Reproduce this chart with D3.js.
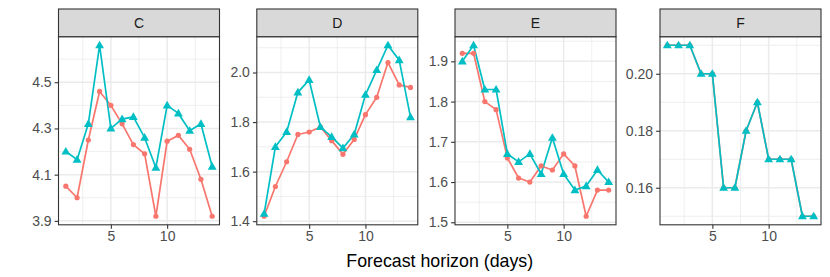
<!DOCTYPE html>
<html><head><meta charset="utf-8">
<script src="https://cdn.jsdelivr.net/npm/d3@7"></script>
<style>body{margin:0;background:#fff}svg{display:block}</style>
</head><body>
<svg id="chart" width="830" height="277"></svg>
<script>
const horizons = [1,2,3,4,5,6,7,8,9,10,11,12,13,14];
const panels = ["C","D","E","F"];
const xTicks = [5,10];
const yTicksC = [3.9,4.1,4.3,4.5];
const yTicksD = [1.4,1.6,1.8,2.0];
const yTicksE = [1.5,1.6,1.7,1.8,1.9];
const yTicksF = [0.16,0.18,0.20];
const redC  = [4.05,4.00,4.25,4.46,4.40,4.32,4.23,4.19,3.92,4.245,4.27,4.21,4.08,3.92];
const tealC = [4.20,4.165,4.32,4.66,4.30,4.34,4.35,4.26,4.13,4.40,4.365,4.29,4.32,4.135];
const redD  = [1.42,1.54,1.64,1.75,1.76,1.78,1.725,1.67,1.73,1.83,1.90,2.04,1.95,1.94];
const tealD = [1.43,1.70,1.76,1.92,1.97,1.78,1.74,1.695,1.75,1.91,2.01,2.11,2.05,1.82];
const redE  = [1.92,1.92,1.80,1.78,1.66,1.61,1.60,1.64,1.63,1.67,1.64,1.515,1.58,1.58];
const tealE = [1.90,1.94,1.83,1.83,1.67,1.65,1.67,1.62,1.71,1.62,1.58,1.59,1.63,1.60];
const redF  = [0.21,0.21,0.21,0.20,0.20,0.16,0.16,0.18,0.19,0.17,0.17,0.17,0.15,0.15];
const tealF = [0.21,0.21,0.21,0.20,0.20,0.16,0.16,0.18,0.19,0.17,0.17,0.17,0.15,0.15];
const xTitle = "Forecast horizon (days)";

const series = {
  C:{red:redC,teal:tealC,ticks:yTicksC,fmt:d3.format(".1f")},
  D:{red:redD,teal:tealD,ticks:yTicksD,fmt:d3.format(".1f")},
  E:{red:redE,teal:tealE,ticks:yTicksE,fmt:d3.format(".1f")},
  F:{red:redF,teal:tealF,ticks:yTicksF,fmt:d3.format(".2f")}
};
const colors = {red:"#F8766D", teal:"#00BFC4"};

const svg = d3.select("#chart");
const font = "'Liberation Sans', Arial, Helvetica, sans-serif";
const lefts = [58.5, 256.8, 455, 660];
const pw = 161;
const stripTop = 9, stripH = 27.7;
const pTop = stripTop + stripH, pBot = 224.8;

panels.forEach((p, i) => {
  const s = series[p];
  const x0 = lefts[i];
  const x = d3.scaleLinear().domain([1 - 0.65, 14 + 0.65]).range([x0, x0 + pw]);
  const all = s.red.concat(s.teal);
  const mn = d3.min(all), mx = d3.max(all), r = mx - mn;
  const y = d3.scaleLinear().domain([mn - 0.05 * r, mx + 0.05 * r]).range([pBot, pTop]);
  const g = svg.append("g");
  g.append("rect").attr("x", x0).attr("y", pTop).attr("width", pw).attr("height", pBot - pTop).attr("fill", "#fff");
  const yt = s.ticks;
  const step = yt[1] - yt[0];
  const yMinor = [];
  for (let k = -1; k < yt.length; k++) {
    const v = yt[0] + step * (k + 0.5);
    if (v >= y.domain()[0] && v <= y.domain()[1]) yMinor.push(v);
  }
  const xMinor = [2.5, 7.5, 12.5];
  g.selectAll(".ymn").data(yMinor).enter().append("line")
    .attr("x1", x0).attr("x2", x0 + pw).attr("y1", d => y(d)).attr("y2", d => y(d))
    .attr("stroke", "#EBEBEB").attr("stroke-width", 0.8);
  g.selectAll(".xmn").data(xMinor).enter().append("line")
    .attr("y1", pTop).attr("y2", pBot).attr("x1", d => x(d)).attr("x2", d => x(d))
    .attr("stroke", "#EBEBEB").attr("stroke-width", 0.8);
  g.selectAll(".ymj").data(yt).enter().append("line")
    .attr("x1", x0).attr("x2", x0 + pw).attr("y1", d => y(d)).attr("y2", d => y(d))
    .attr("stroke", "#EBEBEB").attr("stroke-width", 1.5);
  g.selectAll(".xmj").data(xTicks).enter().append("line")
    .attr("y1", pTop).attr("y2", pBot).attr("x1", d => x(d)).attr("x2", d => x(d))
    .attr("stroke", "#EBEBEB").attr("stroke-width", 1.5);

  const line = d3.line().x((d, j) => x(horizons[j])).y(d => y(d));
  ["red", "teal"].forEach(k => {
    g.append("path").datum(s[k]).attr("d", line).attr("fill", "none")
      .attr("stroke", colors[k]).attr("stroke-width", 1.7).attr("stroke-linejoin", "round");
  });
  g.selectAll(".pr").data(s.red).enter().append("circle")
    .attr("cx", (d, j) => x(horizons[j])).attr("cy", d => y(d)).attr("r", 2.6).attr("fill", colors.red);
  const tri = d3.symbol().type(d3.symbolTriangle).size(34);
  g.selectAll(".pt").data(s.teal).enter().append("path")
    .attr("d", tri).attr("transform", (d, j) => `translate(${x(horizons[j])},${y(d) + 0.5})`)
    .attr("fill", colors.teal);

  g.append("rect").attr("x", x0).attr("y", pTop).attr("width", pw).attr("height", pBot - pTop)
    .attr("fill", "none").attr("stroke", "#333333").attr("stroke-width", 1.1);
  g.append("rect").attr("x", x0).attr("y", stripTop).attr("width", pw).attr("height", stripH)
    .attr("fill", "#D9D9D9").attr("stroke", "#333333").attr("stroke-width", 1.1);
  g.append("text").attr("x", x0 + pw / 2).attr("y", stripTop + stripH / 2 + 5)
    .attr("text-anchor", "middle").attr("font-family", font).attr("font-size", 14)
    .attr("fill", "#1A1A1A").text(p);

  const yAxis = d3.axisLeft(y).tickValues(yt).tickFormat(s.fmt).tickSize(3.9).tickPadding(3);
  const ya = g.append("g").attr("transform", `translate(${x0},0)`).call(yAxis);
  ya.select(".domain").remove();
  ya.selectAll("line").attr("stroke", "#333333").attr("stroke-width", 1.1);
  ya.selectAll("text").attr("font-family", font).attr("font-size", 14).attr("fill", "#4D4D4D");
  const xAxis = d3.axisBottom(x).tickValues(xTicks).tickFormat(d3.format("d")).tickSize(3.9).tickPadding(2.5);
  const xa = g.append("g").attr("transform", `translate(0,${pBot})`).call(xAxis);
  xa.select(".domain").remove();
  xa.selectAll("line").attr("stroke", "#333333").attr("stroke-width", 1.1);
  xa.selectAll("text").attr("font-family", font).attr("font-size", 14).attr("fill", "#4D4D4D");
});

svg.append("text").attr("x", (lefts[0] + lefts[3] + pw) / 2).attr("y", 266.5)
  .attr("text-anchor", "middle").attr("font-family", font).attr("font-size", 17.8)
  .attr("fill", "#000").text(xTitle);
</script>
</body></html>
